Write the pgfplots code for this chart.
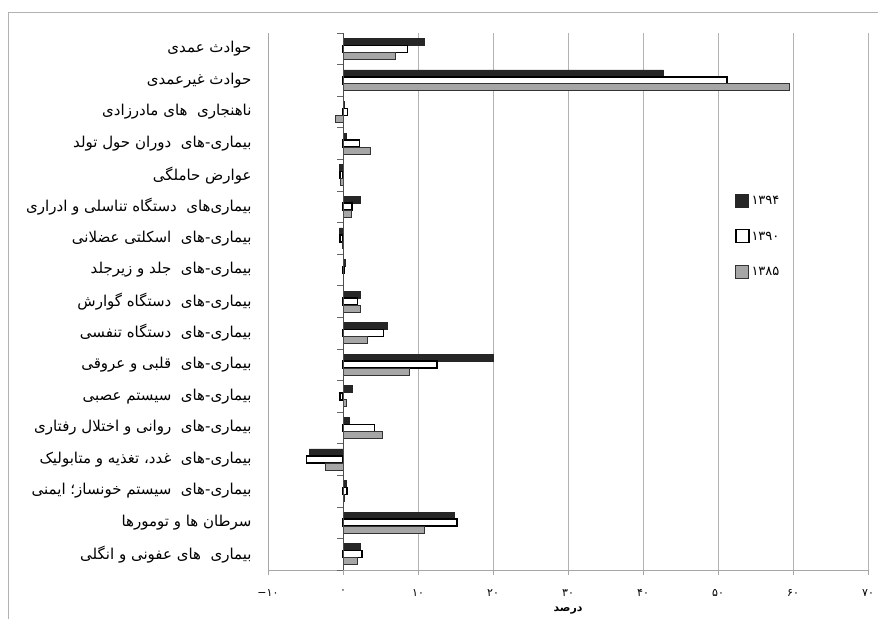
\documentclass[border=0pt]{standalone}
\usepackage{pgfplots}
\pgfplotsset{compat=1.18}
\usepackage{fontspec}
\setmainfont{DejaVu Sans}
\newfontfamily\arabicfont[Script=Arabic]{DejaVu Sans}
\TeXXeTstate=1
\begin{document}
\begin{tikzpicture}[x=1pt,y=1pt]
\useasboundingbox (0,0) rectangle (878,619);
\draw[gray!60, line width=1pt] (8,0) -- (8,606) -- (878,606);
\begin{axis}[
  at={(268pt,49pt)}, anchor=south west,
  width=600pt, height=537pt, scale only axis,
  xmin=-10, xmax=70, ymin=-0.5, ymax=16.5,
  y dir=reverse,
  xbar, bar width=7pt,
  axis x line*=bottom, axis y line*=left,
  axis line style={draw=gray!70, line width=0.8pt},
  xtick={-10,0,10,20,30,40,50,60,70},
  xticklabels={{\normalfont −}۱۰,۰,۱۰,۲۰,۳۰,۴۰,۵۰,۶۰,۷۰},
  xmajorgrids, grid style={gray!60, line width=0.8pt},
  x tick style={draw=gray!70, line width=0.6pt},
  tick align=outside, xtick pos=bottom,
  major tick length=5pt,
  xticklabel style={font=\arabicfont\fontsize{11}{13}\selectfont, yshift=-11pt},
  ytick={0,...,16},
  y tick style={draw=none},
  yticklabel style={font=\arabicfont\fontsize{15}{17}\selectfont, anchor=east, xshift=-8pt},
  yticklabels={
    {\beginR حوادث عمدی\endR},
    {\beginR حوادث غیرعمدی\endR},
    {\beginR ناهنجاری\ \ های مادرزادی\endR},
    {\beginR بیماری-های\ \ دوران حول تولد\endR},
    {\beginR عوارض حاملگی\endR},
    {\beginR بیماری‌های\ \ دستگاه تناسلی و ادراری\endR},
    {\beginR بیماری-های\ \ اسکلتی عضلانی\endR},
    {\beginR بیماری-های\ \ جلد و زیرجلد\endR},
    {\beginR بیماری-های\ \ دستگاه گوارش\endR},
    {\beginR بیماری-های\ \ دستگاه تنفسی\endR},
    {\beginR بیماری-های\ \ قلبی و عروقی\endR},
    {\beginR بیماری-های\ \ سیستم عصبی\endR},
    {\beginR بیماری-های\ \ روانی و اختلال رفتاری\endR},
    {\beginR بیماری-های\ \ غدد، تغذیه و متابولیک\endR},
    {\beginR بیماری-های\ \ سیستم خونساز؛ ایمنی\endR},
    {\beginR سرطان ها و تومورها\endR},
    {\beginR بیماری\ \ های عفونی و انگلی\endR}},
  xlabel={\beginR درصد\endR},
  xlabel style={font=\arabicfont\bfseries\fontsize{11}{13}\selectfont, yshift=-3pt},
  legend style={at={(0.773,0.705)}, anchor=north west, draw=none, fill=white,
    font=\arabicfont\fontsize{13}{15}\selectfont, row sep=21pt, cells={anchor=west}},
  legend image code/.code={\draw[#1] (0pt,-6pt) rectangle (13pt,7pt);},
]
\addplot[fill=black!85, draw=black!85, line width=0.6pt, bar shift=7pt] coordinates {
(10.9,0) (42.7,1) (0.2,2) (0.5,3) (-0.5,4) (2.3,5) (-0.5,6) (0.3,7) (2.3,8) (5.9,9)
(20.1,10) (1.2,11) (0.9,12) (-4.5,13) (0.4,14) (14.9,15) (2.3,16)};
\addplot[fill=white, draw=black, line width=1.5pt, bar shift=0pt] coordinates {
(8.6,0) (51.2,1) (0.6,2) (2.2,3) (-0.4,4) (1.2,5) (-0.4,6) (0.2,7) (1.9,8) (5.4,9)
(12.5,10) (-0.4,11) (4.2,12) (-4.9,13) (0.5,14) (15.2,15) (2.5,16)};
\addplot[fill=black!35, draw=black!80, line width=0.8pt, bar shift=-7pt] coordinates {
(7.0,0) (59.5,1) (-1.0,2) (3.6,3) (-0.3,4) (1.1,5) (-0.1,6) (0.1,7) (2.3,8) (3.2,9)
(8.8,10) (0.5,11) (5.3,12) (-2.4,13) (0.2,14) (10.9,15) (1.9,16)};
\legend{۱۳۹۴,۱۳۹۰,۱۳۸۵}
\draw[black!70, line width=0.8pt] (axis cs:0,-0.5) -- (axis cs:0,16.5);
\pgfplotsinvokeforeach{-0.5,0.5,...,16.5}{
  \draw[black!60, line width=0.6pt] (axis cs:0,#1) -- ++(-6pt,0pt);
}
\end{axis}
\end{tikzpicture}
\end{document}
